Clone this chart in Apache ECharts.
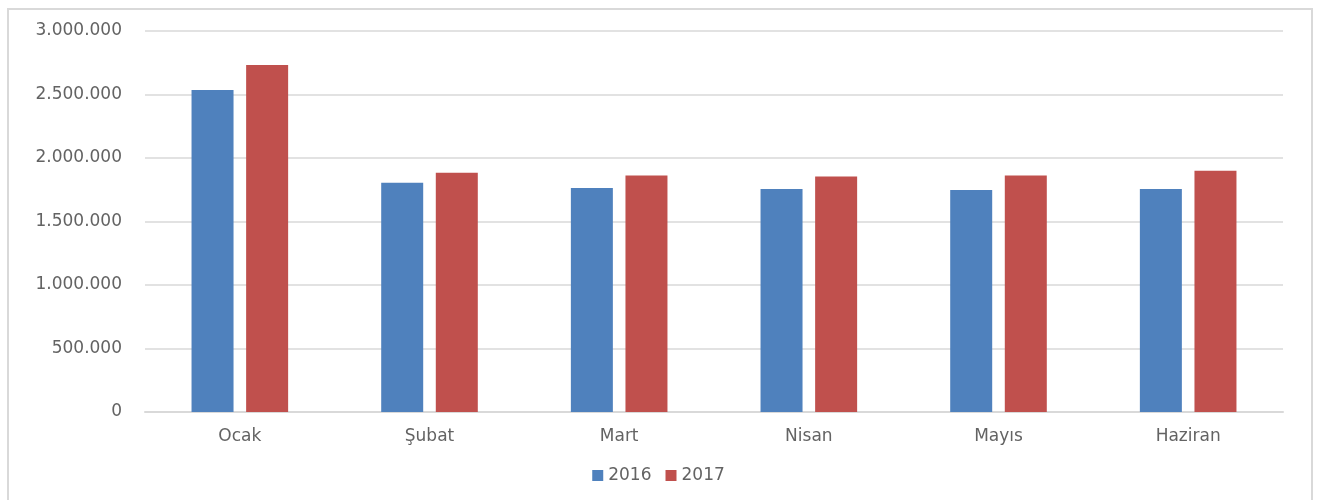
<!DOCTYPE html>
<html>
<head>
<meta charset="utf-8">
<script src="https://cdn.jsdelivr.net/npm/echarts@6/dist/echarts.min.js"></script>
<style>
  html, body { margin: 0; padding: 0; background: #fff; }
  #wrap { position: absolute; left: 0; top: 0; width: 1317px; height: 500px; overflow: hidden; }
  #frame { position: absolute; left: 7px; top: 8px; width: 1302px; height: 520px; border: 2px solid #d9d9d9; }
  #main { position: absolute; left: 0; top: 0; width: 1317px; height: 500px; }
</style>
</head>
<body>
<div id="wrap">
  <div id="frame"></div>
  <div id="main"></div>
</div>
<script>
// aylar
var months = ['Ocak', 'Şubat', 'Mart', 'Nisan', 'Mayıs', 'Haziran'];
var years = ['2016', '2017'];
var data2016 = [2535000, 1805000, 1764000, 1756000, 1748000, 1756000];
var data2017 = [2732000, 1884000, 1863000, 1855000, 1863000, 1900000];

function fmt(v) {
  // 1.500.000 gibi nokta ile
  return String(v).replace(/\B(?=(\d{3})+(?!\d))/g, '.');
}

var chart = echarts.init(document.getElementById('main'));
var option = {
  backgroundColor: 'transparent',
  animation: false,
  textStyle: { fontFamily: 'DejaVu Sans' },
  grid: { left: 145, right: 34, top: 31, bottom: 88 },
  legend: {
    data: years,
    bottom: 11,
    left: 'center',
    itemWidth: 11,
    itemHeight: 11,
    itemGap: 14,
    icon: 'rect',
    textStyle: { color: '#636363', fontSize: 17, fontFamily: 'DejaVu Sans' }
  },
  xAxis: {
    type: 'category',
    data: months,
    axisLine: { lineStyle: { color: '#d9d9d9', width: 2 } },
    axisTick: { show: false },
    axisLabel: { color: '#636363', fontSize: 17, margin: 16 }
  },
  yAxis: {
    type: 'value',
    min: 0,
    max: 3000000,
    interval: 500000,
    axisLine: { show: false },
    axisTick: { show: false },
    splitLine: { lineStyle: { color: '#d9d9d9', width: 1.5 } },
    axisLabel: { color: '#636363', fontSize: 17, margin: 23, formatter: fmt }
  },
  series: [
    {
      name: '2016',
      type: 'bar',
      data: data2016,
      barWidth: 42,
      barGap: '30%',
      itemStyle: { color: '#4f81bd' }
    },
    {
      name: '2017',
      type: 'bar',
      data: data2017,
      barWidth: 42,
      itemStyle: { color: '#c0504d' }
    }
  ]
};
chart.setOption(option);
</script>
</body>
</html>
